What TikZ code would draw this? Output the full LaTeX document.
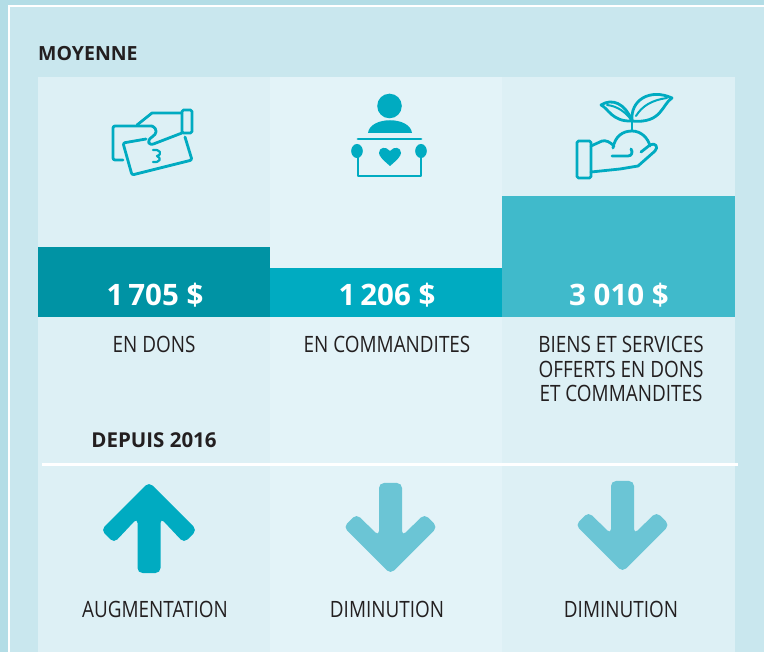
\documentclass[tikz,border=0pt]{standalone}
\usepackage{fontspec}
\setmainfont{Open Sans}
\newfontfamily\narrowfont[FakeStretch=0.84]{Open Sans}
\definecolor{outerstrip}{HTML}{B3DDE6}
\definecolor{framebg}{HTML}{C9E7EE}
\definecolor{cola}{HTML}{DDF0F5}
\definecolor{colb}{HTML}{E3F3F8}
\definecolor{bara}{HTML}{0093A4}
\definecolor{barb}{HTML}{00ABC1}
\definecolor{barc}{HTML}{40BACB}
\definecolor{downcol}{HTML}{6BC5D5}
\definecolor{inkcol}{HTML}{231F20}
\tikzset{evalue/.style={anchor=base,inner sep=0,text=white,font=\fontsize{29.5}{31}\selectfont\bfseries},
  elabel/.style={anchor=base,inner sep=0,text=inkcol,font=\narrowfont\fontsize{22.5}{24}\selectfont},
  ehead/.style={anchor=base west,inner sep=0,text=inkcol,font=\fontsize{19.5}{22}\selectfont\bfseries},
  eicon/.style={draw=barb,line width=2.8pt,line cap=round,line join=round}}

\begin{document}
\begin{tikzpicture}[x=1pt,y=-1pt]
    \useasboundingbox (0,0) rectangle (764,652);
    \fill[outerstrip] (0,0) rectangle (764,652);
    \fill[white] (8,5) rectangle (764,652);
    \fill[framebg] (10,7) rectangle (764,652);
    \fill[cola] (38,77) rectangle (270,652);
    \fill[colb] (270,77) rectangle (502,652);
    \fill[cola] (502,77) rectangle (735,652);
    \fill[bara] (38,247) rectangle (270,317);
    \fill[barb] (270,268) rectangle (502,317);
    \fill[barc] (502,196) rectangle (735,317);
    \node[ehead] (moy) at (38,61) {MOYENNE};
    \node[evalue] (va) at (155,306) {1\,705 \$};
    \node[evalue] (vb) at (387,306) {1\,206 \$};
    \node[evalue] (vc) at (619,306) {3 010 \$};
    \node[elabel] (la) at (154,353) {EN DONS};
    \node[elabel] (lb) at (387,353) {EN COMMANDITES};
    \node[elabel] (lc1) at (621,353) {BIENS ET SERVICES};
    \node[elabel] (lc2) at (621,377.5) {OFFERTS EN DONS};
    \node[elabel] (lc3) at (621,402) {ET COMMANDITES};
    \node[ehead,anchor=base,font=\fontsize{20.5}{22}\selectfont\bfseries] (dep) at (154,448) {DEPUIS 2016};
    \draw[white,line width=3pt] (42,464.5) -- (738,464.5);
    \fill[barb,rounded corners=5pt] (149,482) -- (197,530) -- (184,543) -- (160.5,518) -- (160.5,573)
        -- (137.5,573) -- (137.5,518) -- (114,543) -- (101,530) -- cycle;
    \foreach \cx/\ty in {390.5/483,622.5/481}
        \fill[downcol,rounded corners=5pt] (\cx,\ty+91) -- (\cx+47,\ty+44) -- (\cx+34,\ty+31) -- (\cx+11.5,\ty+53)
            -- (\cx+11.5,\ty) -- (\cx-11.5,\ty) -- (\cx-11.5,\ty+53) -- (\cx-34,\ty+31) -- (\cx-47,\ty+44) -- cycle;
    \node[elabel] (aa) at (155,617) {AUGMENTATION};
    \node[elabel] (ab) at (387,617) {DIMINUTION};
    \node[elabel] (ac) at (621,617) {DIMINUTION};
    \draw[eicon,rounded corners=1.5pt] (182,110) rectangle (192,133);
    \draw[eicon] (182,113) -- (152,113) -- (137,125);
    \draw[eicon,rounded corners=2pt] (152,126) -- (113,126) -- (113,160) -- (123,160);
    \draw[eicon] (152,126) .. controls (158,129) and (157,134) .. (152,137) .. controls (146,141) and (148,147) .. (156,143) -- (182,133);
    \draw[eicon,rounded corners=2pt] (146,139) -- (123,143) -- (132,175) -- (192,160) -- (185,137);
    \draw[eicon,line width=2.2pt] (153,150) .. controls (160,149) and (163,154) .. (157,156) .. controls (162,158) and (160,163) .. (153,162);
    \fill[barb] (389.5,106) circle (12.3);
    \fill[barb] (368,133) .. controls (370,116) and (410,116) .. (412,133) -- cycle;
    \draw[eicon] (358,139) -- (421,139);
    \draw[eicon] (358,157) -- (358,176) -- (421,176) -- (421,157);
    \fill[barb] (357,151) ellipse (5.8 and 7);
    \fill[barb] (421,151) ellipse (5.8 and 7);
    \fill[barb] (390,166) .. controls (383,160) and (379,156) .. (379,153) .. controls (379,147) and (386,146) .. (390,151)
        .. controls (394,146) and (401,147) .. (401,153) .. controls (401,156) and (397,160) .. (390,166);
    \draw[eicon,rounded corners=1.5pt] (577,141) rectangle (591,178);
    \draw[eicon] (591,146) -- (602,141) .. controls (606,140) and (610,142) .. (614,146);
    \draw[eicon] (612,156) -- (628,156) .. controls (632,156) and (633,152) .. (631,149);
    \draw[eicon] (591,172) -- (620,169) -- (638,166) -- (655,151) .. controls (659,147) and (655,142) .. (650,145) -- (641,152);
    \draw[eicon] (613,148) .. controls (615,136) and (623,131) .. (632,131) .. controls (641,131) and (648,138) .. (650,146);
    \draw[eicon] (632,131) -- (632,119);
    \draw[eicon] (632,121) .. controls (625,103) and (612,98) .. (601,105) .. controls (608,108) and (612,122) .. (632,121);
    \draw[eicon,line width=2pt] (607,105) .. controls (617,106) and (626,112) .. (632,121);
    \draw[eicon] (632,121) .. controls (630,100) and (650,88) .. (672,98) .. controls (662,104) and (662,124) .. (632,121);
    \draw[eicon,line width=2pt] (636,116) .. controls (642,106) and (652,100) .. (667,98);
\end{tikzpicture}
\end{document}
